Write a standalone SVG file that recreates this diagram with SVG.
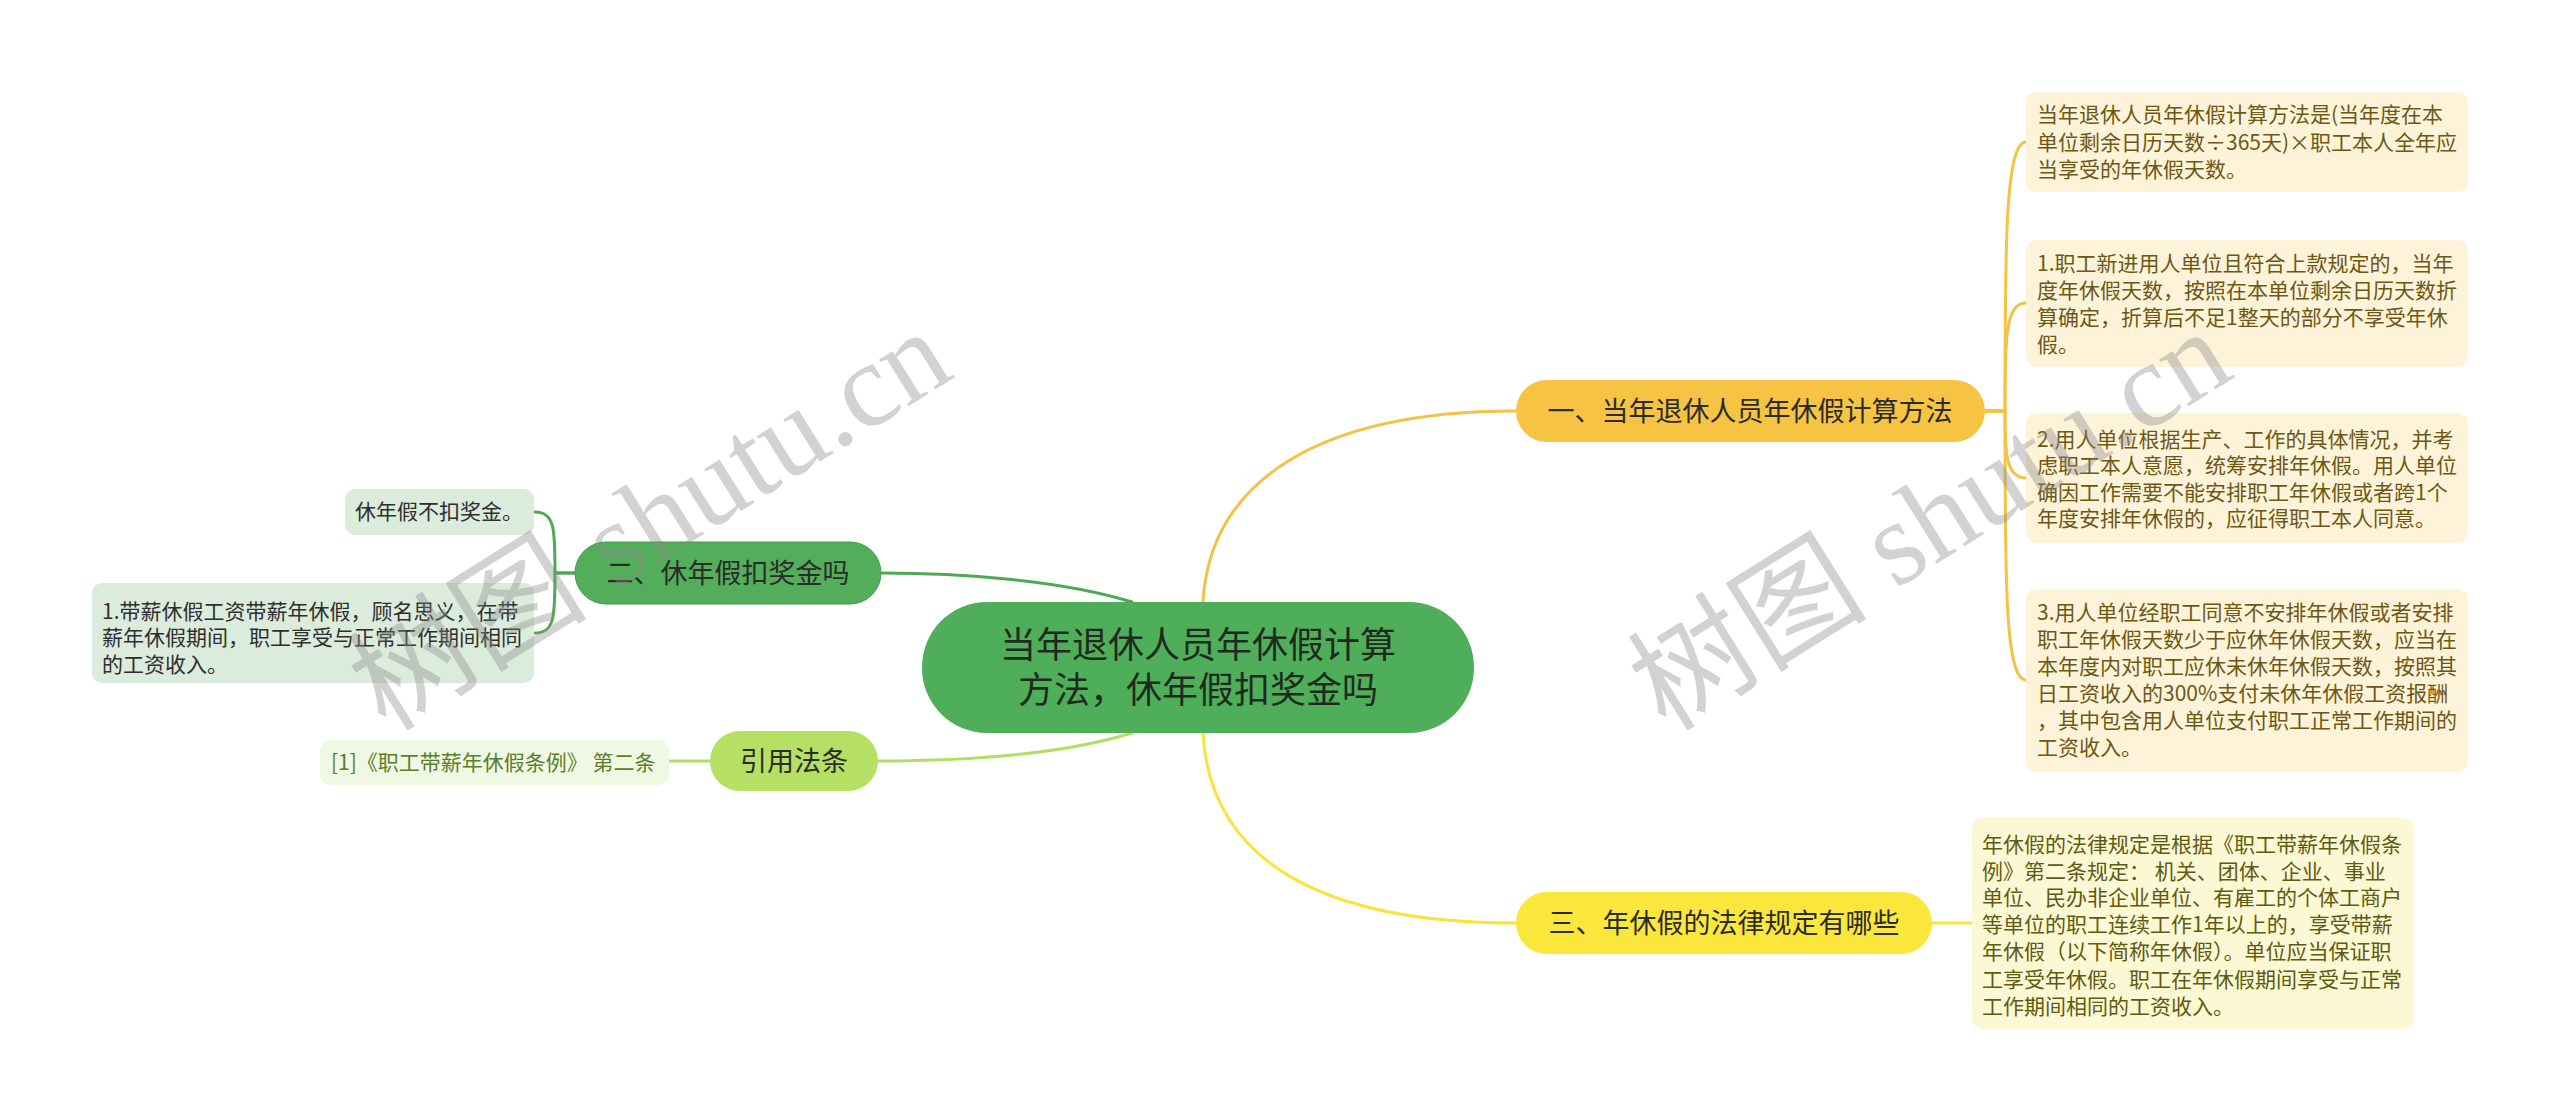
<svg xmlns="http://www.w3.org/2000/svg" width="2560" height="1120" viewBox="0 0 2560 1120">
<style>
text{font-family:"Noto Sans CJK SC","Liberation Sans",sans-serif;}
.c{fill:none;stroke-width:3;stroke-linecap:round}
.gold{stroke:#f4c343}
.yel{stroke:#f9e43c}
.dg{stroke:#4fa954}
.lg{stroke:#b2df62}
.ctr{font-size:36px;fill:#1f2a1f;text-anchor:middle}
.br{font-size:27px;fill:#2b2b2b;text-anchor:middle}
.lf{font-size:21px}
.lfy{fill:#6e5714}
.lfy3{fill:#5f5a12}
.lfg{fill:#2e2e2e}
.lfl{fill:#5a7d28}
.wm{font-family:"Liberation Serif","Noto Sans CJK SC",serif;font-size:120px;fill:#8a8a8a;fill-opacity:0.38;text-anchor:middle;dominant-baseline:central}
</style>
<rect width="2560" height="1120" fill="#ffffff"/>
<g id="connectors">
<path class="c gold" d="M1203,602 C1210,480 1320,411 1516,411"/>
<path class="c yel" d="M1203,733 C1210,860 1320,923 1516,923"/>
<path class="c dg" d="M1132,602 C1060,580 960,573 881,573"/>
<path class="c lg" d="M1132,733 C1060,755 960,761 878,761"/>
<path class="c gold" d="M1985,411 H2005 C2005,250 2005,142 2026,142"/>
<path class="c gold" d="M1985,411 H2005 C2005,340 2005,303 2026,303"/>
<path class="c gold" d="M1985,411 H2005 C2005,450 2005,478 2026,478"/>
<path class="c gold" d="M1985,411 H2005 C2005,580 2005,680 2026,680"/>
<path class="c yel" d="M1932,923 H1972"/>
<path class="c dg" d="M575,573 H555 C555,530 555,512 535,512"/>
<path class="c dg" d="M575,573 H555 C555,615 555,633 535,633"/>
<path class="c lg" d="M710,761 H669"/>
</g>
<g id="center">
<rect x="922" y="602" width="552" height="131" rx="65" fill="#4fae5a"/>
<text class="ctr" x="1198" y="658">当年退休人员年休假计算</text>
<text class="ctr" x="1198" y="703">方法，休年假扣奖金吗</text>
</g>
<g id="b1">
<rect x="1516" y="380" width="469" height="62" rx="31" fill="#f6c343"/>
<text class="br" x="1750" y="421">一、当年退休人员年休假计算方法</text>
</g>
<g id="b3">
<rect x="1516" y="892" width="416" height="62" rx="31" fill="#fbe73c"/>
<text class="br" x="1724" y="933">三、年休假的法律规定有哪些</text>
</g>
<g id="b2">
<rect x="575" y="542" width="306" height="62" rx="31" fill="#52ae5a" stroke="#44994c" stroke-width="1"/>
<text class="br" x="728" y="583">二、休年假扣奖金吗</text>
</g>
<g id="b4">
<rect x="710" y="731" width="168" height="60" rx="30" fill="#b5e063"/>
<text class="br" x="794" y="771">引用法条</text>
</g>
<g id="r1">
<rect x="2026" y="92" width="442" height="100" rx="10" fill="#fdf3d9"/>
<text class="lf lfy" x="2037" y="122">当年退休人员年休假计算方法是(当年度在本</text>
<text class="lf lfy" x="2037" y="150">单位剩余日历天数÷365天)×职工本人全年应</text>
<text class="lf lfy" x="2037" y="177">当享受的年休假天数。</text>
</g>
<g id="r2">
<rect x="2026" y="240" width="442" height="127" rx="10" fill="#fdf3d9"/>
<text class="lf lfy" x="2037" y="271">1.职工新进用人单位且符合上款规定的，当年</text>
<text class="lf lfy" x="2037" y="298">度年休假天数，按照在本单位剩余日历天数折</text>
<text class="lf lfy" x="2037" y="325">算确定，折算后不足1整天的部分不享受年休</text>
<text class="lf lfy" x="2037" y="352">假。</text>
</g>
<g id="r3">
<rect x="2026" y="413" width="442" height="130" rx="10" fill="#fdf3d9"/>
<text class="lf lfy" x="2037" y="447">2.用人单位根据生产、工作的具体情况，并考</text>
<text class="lf lfy" x="2037" y="473">虑职工本人意愿，统筹安排年休假。用人单位</text>
<text class="lf lfy" x="2037" y="500">确因工作需要不能安排职工年休假或者跨1个</text>
<text class="lf lfy" x="2037" y="526">年度安排年休假的，应征得职工本人同意。</text>
</g>
<g id="r4">
<rect x="2026" y="589" width="442" height="183" rx="10" fill="#fdf3d9"/>
<text class="lf lfy" x="2037" y="620">3.用人单位经职工同意不安排年休假或者安排</text>
<text class="lf lfy" x="2037" y="647">职工年休假天数少于应休年休假天数，应当在</text>
<text class="lf lfy" x="2037" y="674">本年度内对职工应休未休年休假天数，按照其</text>
<text class="lf lfy" x="2037" y="701">日工资收入的300%支付未休年休假工资报酬</text>
<text class="lf lfy" x="2037" y="728">，其中包含用人单位支付职工正常工作期间的</text>
<text class="lf lfy" x="2037" y="755">工资收入。</text>
</g>
<g id="r5">
<rect x="1972" y="818" width="442" height="211" rx="10" fill="#fdf8d4"/>
<text class="lf lfy3" x="1982" y="852">年休假的法律规定是根据《职工带薪年休假条</text>
<text class="lf lfy3" x="1982" y="879">例》第二条规定： 机关、团体、企业、事业</text>
<text class="lf lfy3" x="1982" y="905">单位、民办非企业单位、有雇工的个体工商户</text>
<text class="lf lfy3" x="1982" y="932">等单位的职工连续工作1年以上的，享受带薪</text>
<text class="lf lfy3" x="1982" y="959">年休假（以下简称年休假）。单位应当保证职</text>
<text class="lf lfy3" x="1982" y="987">工享受年休假。职工在年休假期间享受与正常</text>
<text class="lf lfy3" x="1982" y="1014">工作期间相同的工资收入。</text>
</g>
<g id="l1">
<rect x="345" y="489" width="189" height="46" rx="10" fill="#dcecdc"/>
<text class="lf lfg" x="355" y="519">休年假不扣奖金。</text>
</g>
<g id="l2">
<rect x="92" y="583" width="442" height="100" rx="10" fill="#dcecdc"/>
<text class="lf lfg" x="102" y="619">1.带薪休假工资带薪年休假，顾名思义，在带</text>
<text class="lf lfg" x="102" y="645">薪年休假期间，职工享受与正常工作期间相同</text>
<text class="lf lfg" x="102" y="672">的工资收入。</text>
</g>
<g id="l3">
<rect x="320" y="740" width="349" height="45" rx="10" fill="#eff8e3"/>
<text class="lf lfl" x="331" y="770">[1]《职工带薪年休假条例》 第二条</text>
</g>
<g id="watermark">
<text class="wm" transform="translate(650,520) rotate(-32)">树图 shutu.cn</text>
<text class="wm" transform="translate(1930,520) rotate(-32)">树图 shutu.cn</text>
</g>
</svg>
